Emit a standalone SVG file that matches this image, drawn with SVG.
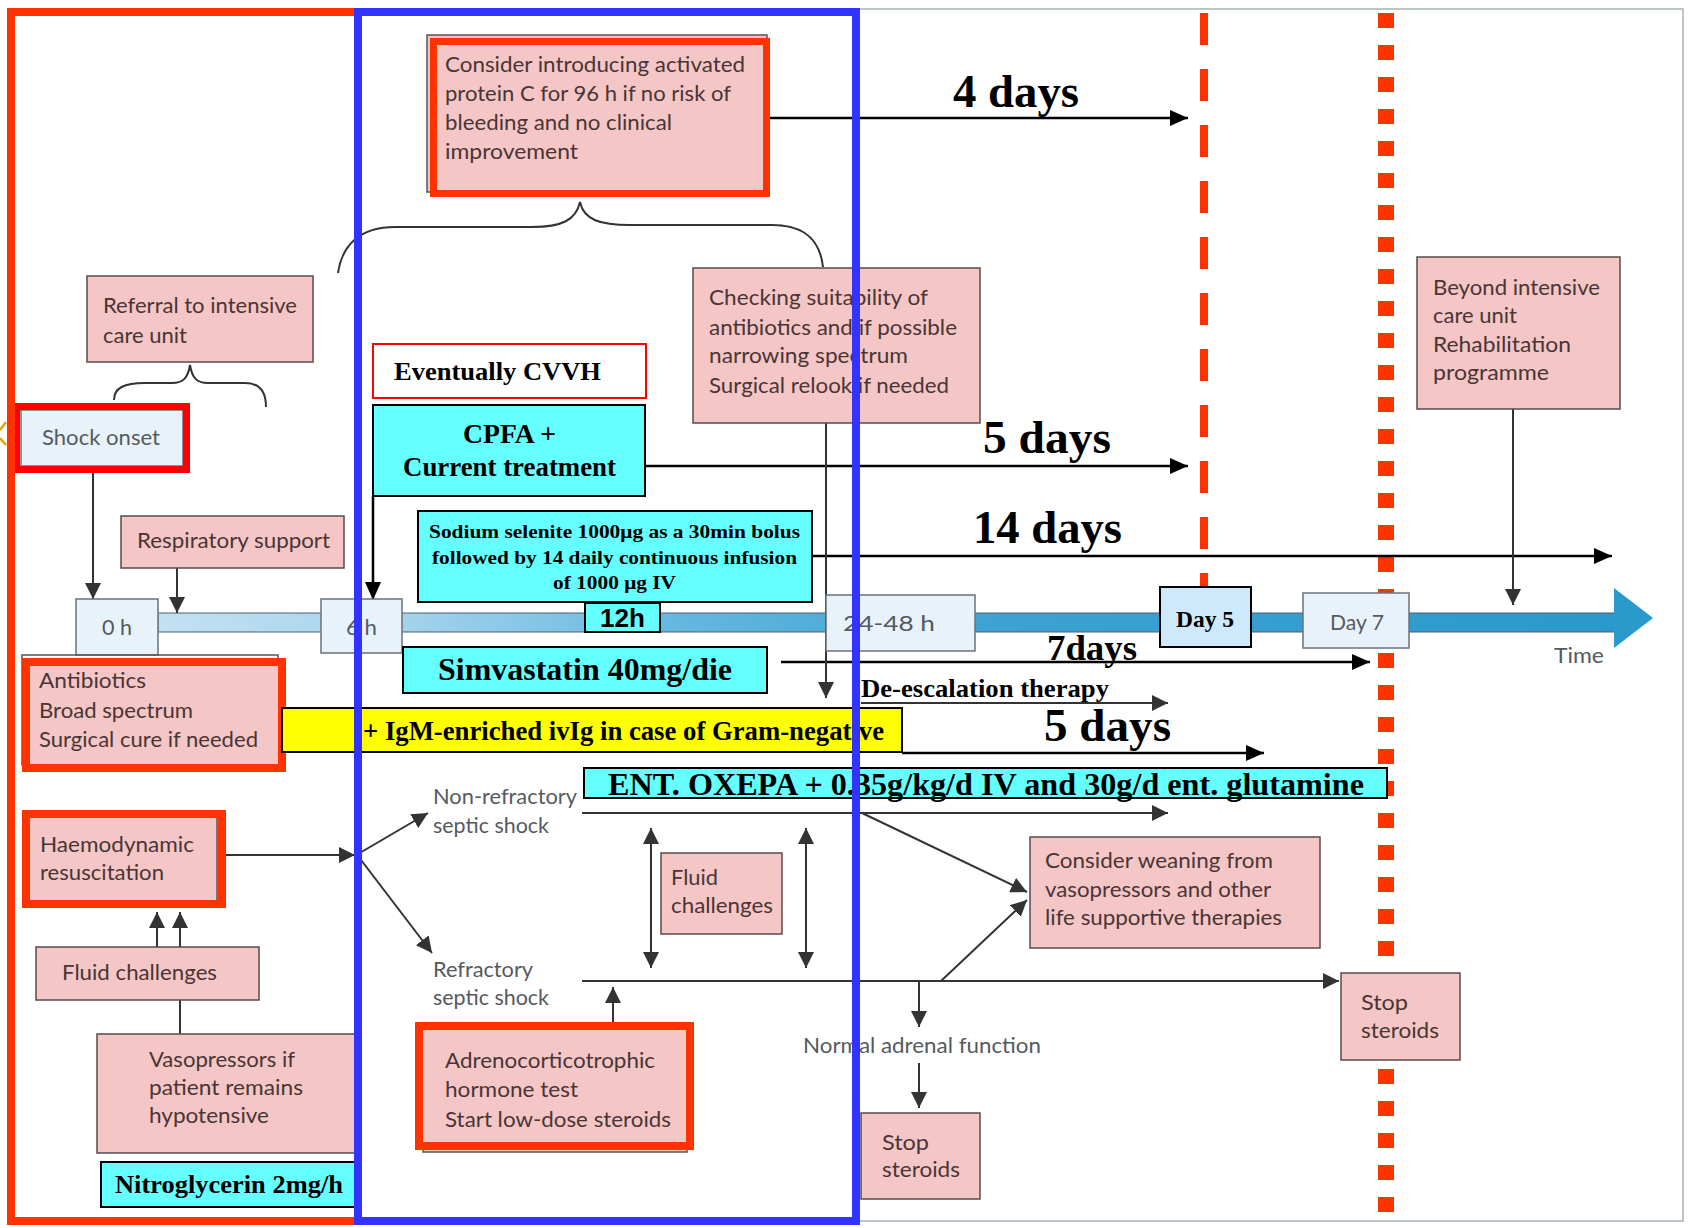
<svg xmlns="http://www.w3.org/2000/svg" width="1689" height="1228" viewBox="0 0 1689 1228">
  <defs>
    <style>
      .pink { fill: #f4c6c6; stroke: #5a4a4a; stroke-width: 1.5; }
      .lblue { fill: #e8f2fa; stroke: #6b7278; stroke-width: 1.5; }
      .cyan { fill: #66ffff; stroke: #000; stroke-width: 2; }
      .pinkframe { fill: #f4c6c6; stroke: #ff3300; stroke-width: 8; }
      .t { font-family: Lato, "Open Sans", sans-serif; font-size: 22px; fill: #4a3535; }
      .tg { font-family: Lato, "Open Sans", sans-serif; font-size: 22px; fill: #555a5e; }
      .b { font-family: "Liberation Serif", "Times New Roman", serif; font-weight: bold; fill: #000; }
      .conn { stroke: #333; stroke-width: 2; fill: none; }
      .connb { stroke: #000; stroke-width: 2.5; fill: none; }
    </style>
    <marker id="ah" viewBox="0 0 16 16" refX="16" refY="8" markerWidth="16" markerHeight="16" markerUnits="userSpaceOnUse" orient="auto-start-reverse">
      <path d="M0,0 L16,8 L0,16 Z" fill="#333"/>
    </marker>
    <marker id="ahb" viewBox="0 0 18 16" refX="18" refY="8" markerWidth="18" markerHeight="16" markerUnits="userSpaceOnUse" orient="auto">
      <path d="M0,0 L18,8 L0,16 Z" fill="#000"/>
    </marker>
    <linearGradient id="barGrad" x1="158" y1="0" x2="1653" y2="0" gradientUnits="userSpaceOnUse">
      <stop offset="0" stop-color="#c2e1f2"/>
      <stop offset="0.16" stop-color="#a6d3ec"/>
      <stop offset="0.34" stop-color="#66b8e0"/>
      <stop offset="0.55" stop-color="#3ea2d2"/>
      <stop offset="1" stop-color="#2a98cc"/>
    </linearGradient>
  </defs>

  <!-- page background and outer border -->
  <rect x="0" y="0" width="1689" height="1228" fill="#fff"/>
  <polyline points="858,9 1683,9 1683,1221 858,1221" fill="none" stroke="#bcc6bc" stroke-width="2"/>

  <!-- time axis -->
  <g id="timeline">
    <rect x="158" y="613" width="1460" height="19" fill="url(#barGrad)" stroke="#4a6070" stroke-width="1"/>
    <polygon points="1614,588 1653,618 1614,648" fill="#2a9acd"/>
  </g>

  <!-- day limits -->
  <g id="day-limits">
    <line x1="1204" y1="13" x2="1204" y2="587" stroke="#ff3300" stroke-width="8" stroke-dasharray="32 24"/>
    <line x1="1386" y1="13" x2="1386" y2="1220" stroke="#ff3300" stroke-width="16" stroke-dasharray="15 17"/>
  </g>

  <!-- connectors -->
  <g id="connectors">
    <path class="conn" d="M93,473 V599" marker-end="url(#ah)"/>
    <path class="conn" d="M177,568 V613" marker-end="url(#ah)"/>
    <path class="connb" d="M373,496 V600" marker-end="url(#ahb)"/>
    <path class="connb" d="M770,118 H1188" marker-end="url(#ahb)"/>
    <path class="connb" d="M645,466 H1188" marker-end="url(#ahb)"/>
    <path class="connb" d="M812,556 H1612" marker-end="url(#ahb)"/>
    <path class="connb" d="M781,662 H1370" marker-end="url(#ahb)"/>
    <path class="connb" d="M902,753 H1264" marker-end="url(#ahb)"/>
    <path class="conn" d="M826,423 V698" marker-end="url(#ah)"/>
    <path class="conn" d="M861,703 H1168" marker-end="url(#ah)"/>
    <path class="conn" d="M1513,409 V605" marker-end="url(#ah)"/>
    <path class="conn" d="M226,855 H355" marker-end="url(#ah)"/>
    <path class="conn" d="M358,854 L428,813" marker-end="url(#ah)"/>
    <path class="conn" d="M358,856 L432,953" marker-end="url(#ah)"/>
    <path class="conn" d="M157,947 V912" marker-end="url(#ah)"/>
    <path class="conn" d="M180,947 V912" marker-end="url(#ah)"/>
    <path class="conn" d="M180,1000 V1034"/>
    <path class="conn" d="M582,813 H1168" marker-end="url(#ah)"/>
    <path class="conn" d="M582,981 H1339" marker-end="url(#ah)"/>
    <path class="conn" d="M651,828 V968" marker-start="url(#ah)" marker-end="url(#ah)"/>
    <path class="conn" d="M806,828 V968" marker-start="url(#ah)" marker-end="url(#ah)"/>
    <path class="conn" d="M862,813 L1027,892" marker-end="url(#ah)"/>
    <path class="conn" d="M941,981 L1027,900" marker-end="url(#ah)"/>
    <path class="conn" d="M919,981 V1027" marker-end="url(#ah)"/>
    <path class="conn" d="M919,1063 V1108" marker-end="url(#ah)"/>
    <path class="conn" d="M613,1026 V987" marker-end="url(#ah)"/>
    <!-- braces -->
    <path class="conn" stroke-width="1.8" d="M114,400 C114,388 124,383 145,383 L172,383 C183,383 188,378 190,365 C192,378 197,383 208,383 L245,383 C260,383 266,392 266,407"/>
    <path class="conn" stroke-width="1.8" d="M338,273 C342,245 360,227 395,227 L532,227 C562,227 576,220 580,202 C584,220 600,225 630,225 L772,225 C805,225 820,240 823,267"/>
    <polyline points="6,422 0,430" fill="none" stroke="#e8a000" stroke-width="2.5"/>
    <polyline points="0,438 6,445" fill="none" stroke="#e8a000" stroke-width="2.5"/>
  </g>

  <!-- timeline boxes -->
  <g id="t0">
    <rect class="lblue" x="76" y="599" width="82" height="56"/>
    <text class="tg" x="102" y="635" textLength="30" lengthAdjust="spacingAndGlyphs">0 h</text>
  </g>
  <g id="t6">
    <rect class="lblue" x="321" y="599" width="81" height="54"/>
    <text class="tg" x="346" y="635" textLength="31" lengthAdjust="spacingAndGlyphs">6 h</text>
  </g>
  <g id="t12">
    <rect class="cyan" x="585" y="603" width="75" height="29"/>
    <text x="600" y="627" font-family="Liberation Sans, Arial, sans-serif" font-weight="bold" font-size="25" textLength="45" lengthAdjust="spacingAndGlyphs">12h</text>
  </g>
  <g id="t24">
    <rect class="lblue" x="826" y="595" width="149" height="56"/>
    <text class="tg" x="843" y="631" textLength="92" lengthAdjust="spacingAndGlyphs">24-48 h</text>
  </g>
  <g id="day5">
    <rect x="1160" y="587" width="91" height="60" fill="#cde9fb" stroke="#000" stroke-width="2"/>
    <text class="b" x="1176" y="627" font-size="24" textLength="58" lengthAdjust="spacingAndGlyphs">Day 5</text>
  </g>
  <g id="day7">
    <rect class="lblue" x="1303" y="593" width="106" height="55"/>
    <text class="tg" x="1330" y="630" textLength="54" lengthAdjust="spacingAndGlyphs">Day 7</text>
  </g>
  <g id="time-label">
    <text class="tg" x="1554" y="663" textLength="50" lengthAdjust="spacingAndGlyphs">Time</text>
  </g>

  <!-- left column -->
  <g id="referral">
    <rect class="pink" x="87" y="276" width="226" height="86"/>
    <text class="t" x="103" y="313" textLength="194" lengthAdjust="spacingAndGlyphs">Referral to intensive</text>
    <text class="t" x="103" y="343" textLength="84" lengthAdjust="spacingAndGlyphs">care unit</text>
  </g>
  <g id="shock-onset">
    <rect class="lblue" x="21" y="410" width="162" height="56"/>
    <rect x="16.5" y="406.5" width="170" height="63" fill="none" stroke="#ff0000" stroke-width="7"/>
    <text class="tg" x="42" y="445" textLength="118" lengthAdjust="spacingAndGlyphs">Shock onset</text>
  </g>
  <g id="respiratory">
    <rect class="pink" x="121" y="516" width="223" height="52"/>
    <text class="t" x="137" y="548" textLength="193" lengthAdjust="spacingAndGlyphs">Respiratory support</text>
  </g>
  <g id="antibiotics">
    <rect x="22" y="655" width="256" height="110" fill="none" stroke="#555" stroke-width="1.5"/>
    <rect class="pinkframe" x="26" y="662" width="256" height="106"/>
    <text class="t" x="39" y="688" textLength="107" lengthAdjust="spacingAndGlyphs">Antibiotics</text>
    <text class="t" x="39" y="718" textLength="154" lengthAdjust="spacingAndGlyphs">Broad spectrum</text>
    <text class="t" x="39" y="747" textLength="219" lengthAdjust="spacingAndGlyphs">Surgical cure if needed</text>
  </g>
  <g id="haemodynamic">
    <rect class="pinkframe" x="26" y="814" width="196" height="90"/>
    <line x1="217" y1="818" x2="217" y2="900" stroke="#555" stroke-width="1.5"/>
    <text class="t" x="40" y="852" textLength="154" lengthAdjust="spacingAndGlyphs">Haemodynamic</text>
    <text class="t" x="40" y="880" textLength="124" lengthAdjust="spacingAndGlyphs">resuscitation</text>
  </g>
  <g id="fluid-left">
    <rect class="pink" x="36" y="947" width="223" height="53"/>
    <text class="t" x="62" y="980" textLength="155" lengthAdjust="spacingAndGlyphs">Fluid challenges</text>
  </g>
  <g id="vasopressors">
    <rect class="pink" x="97" y="1034" width="260" height="119"/>
    <text class="t" x="149" y="1067" textLength="146" lengthAdjust="spacingAndGlyphs">Vasopressors if</text>
    <text class="t" x="149" y="1095" textLength="154" lengthAdjust="spacingAndGlyphs">patient remains</text>
    <text class="t" x="149" y="1123" textLength="120" lengthAdjust="spacingAndGlyphs">hypotensive</text>
  </g>
  <g id="nitroglycerin">
    <rect class="cyan" x="101" y="1162" width="256" height="45"/>
    <text class="b" x="115" y="1193" font-size="25" textLength="228" lengthAdjust="spacingAndGlyphs">Nitroglycerin 2mg/h</text>
  </g>

  <!-- middle column -->
  <g id="protein-c">
    <rect x="427" y="35" width="340" height="157" fill="#f4c6c6" stroke="#555" stroke-width="1.5"/>
    <rect x="433.5" y="41.5" width="333" height="152" fill="#f4c6c6" stroke="#ff3300" stroke-width="7"/>
    <text class="t" x="445" y="72" textLength="300" lengthAdjust="spacingAndGlyphs">Consider introducing activated</text>
    <text class="t" x="445" y="101" textLength="286" lengthAdjust="spacingAndGlyphs">protein C for 96 h if no risk of</text>
    <text class="t" x="445" y="130" textLength="227" lengthAdjust="spacingAndGlyphs">bleeding and no clinical</text>
    <text class="t" x="445" y="159" textLength="133" lengthAdjust="spacingAndGlyphs">improvement</text>
  </g>
  <g id="cvvh">
    <rect x="373" y="344" width="273" height="54" fill="#fff" stroke="#ff0000" stroke-width="2"/>
    <text class="b" x="394" y="380" font-size="26" textLength="207" lengthAdjust="spacingAndGlyphs">Eventually CVVH</text>
  </g>
  <g id="cpfa">
    <rect class="cyan" x="373" y="405" width="272" height="91"/>
    <text class="b" x="463" y="443" font-size="27" textLength="93" lengthAdjust="spacingAndGlyphs">CPFA +</text>
    <text class="b" x="403" y="476" font-size="27" textLength="213" lengthAdjust="spacingAndGlyphs">Current treatment</text>
  </g>
  <g id="selenite">
    <rect class="cyan" x="418" y="511" width="394" height="91"/>
    <text class="b" x="429" y="538" font-size="19" textLength="371" lengthAdjust="spacingAndGlyphs">Sodium selenite 1000μg as a 30min bolus</text>
    <text class="b" x="432" y="564" font-size="19" textLength="365" lengthAdjust="spacingAndGlyphs">followed by 14 daily continuous infusion</text>
    <text class="b" x="553" y="589" font-size="19" textLength="123" lengthAdjust="spacingAndGlyphs">of 1000 μg IV</text>
  </g>
  <g id="simvastatin">
    <rect class="cyan" x="403" y="647" width="364" height="46"/>
    <text class="b" x="438" y="680" font-size="32" textLength="294" lengthAdjust="spacingAndGlyphs">Simvastatin 40mg/die</text>
  </g>
  <g id="ivig">
    <rect x="282" y="708" width="620" height="44" fill="#ffff00" stroke="#000" stroke-width="2"/>
    <text class="b" x="363" y="740" font-size="27" textLength="521" lengthAdjust="spacingAndGlyphs">+ IgM-enriched ivIg in case of Gram-negative</text>
  </g>
  <g id="oxepa">
    <rect class="cyan" x="584" y="768" width="803" height="30"/>
    <text class="b" x="608" y="795" font-size="31" textLength="756" lengthAdjust="spacingAndGlyphs">ENT. OXEPA + 0.35g/kg/d IV and 30g/d ent. glutamine</text>
  </g>
  <g id="septic-labels">
    <text class="tg" x="433" y="804" textLength="144" lengthAdjust="spacingAndGlyphs">Non-refractory</text>
    <text class="tg" x="433" y="833" textLength="116" lengthAdjust="spacingAndGlyphs">septic shock</text>
    <text class="tg" x="433" y="977" textLength="100" lengthAdjust="spacingAndGlyphs">Refractory</text>
    <text class="tg" x="433" y="1005" textLength="116" lengthAdjust="spacingAndGlyphs">septic shock</text>
  </g>
  <g id="fluid-mid">
    <rect class="pink" x="661" y="853" width="121" height="81"/>
    <text class="t" x="671" y="885" textLength="47" lengthAdjust="spacingAndGlyphs">Fluid</text>
    <text class="t" x="671" y="913" textLength="102" lengthAdjust="spacingAndGlyphs">challenges</text>
  </g>
  <g id="acth">
    <rect x="423" y="1031" width="264" height="121" fill="#f4c6c6" stroke="#555" stroke-width="1.5"/>
    <rect class="pinkframe" x="419" y="1026" width="271" height="120"/>
    <text class="t" x="445" y="1068" textLength="210" lengthAdjust="spacingAndGlyphs">Adrenocorticotrophic</text>
    <text class="t" x="445" y="1097" textLength="133" lengthAdjust="spacingAndGlyphs">hormone test</text>
    <text class="t" x="445" y="1127" textLength="226" lengthAdjust="spacingAndGlyphs">Start low-dose steroids</text>
  </g>

  <!-- right part -->
  <g id="checking">
    <rect class="pink" x="693" y="268" width="287" height="155"/>
    <text class="t" x="709" y="305" textLength="219" lengthAdjust="spacingAndGlyphs">Checking suitability of</text>
    <text class="t" x="709" y="335" textLength="248" lengthAdjust="spacingAndGlyphs">antibiotics and if possible</text>
    <text class="t" x="709" y="363" textLength="199" lengthAdjust="spacingAndGlyphs">narrowing spectrum</text>
    <text class="t" x="709" y="393" textLength="240" lengthAdjust="spacingAndGlyphs">Surgical relook if needed</text>
  </g>
  <g id="beyond">
    <rect class="pink" x="1417" y="257" width="203" height="152"/>
    <text class="t" x="1433" y="295" textLength="167" lengthAdjust="spacingAndGlyphs">Beyond intensive</text>
    <text class="t" x="1433" y="323" textLength="84" lengthAdjust="spacingAndGlyphs">care unit</text>
    <text class="t" x="1433" y="352" textLength="138" lengthAdjust="spacingAndGlyphs">Rehabilitation</text>
    <text class="t" x="1433" y="380" textLength="116" lengthAdjust="spacingAndGlyphs">programme</text>
  </g>
  <g id="weaning">
    <rect class="pink" x="1030" y="837" width="290" height="111"/>
    <text class="t" x="1045" y="868" textLength="228" lengthAdjust="spacingAndGlyphs">Consider weaning from</text>
    <text class="t" x="1045" y="897" textLength="226" lengthAdjust="spacingAndGlyphs">vasopressors and other</text>
    <text class="t" x="1045" y="925" textLength="237" lengthAdjust="spacingAndGlyphs">life supportive therapies</text>
  </g>
  <g id="normal-adrenal">
    <text class="tg" x="803" y="1053" textLength="238" lengthAdjust="spacingAndGlyphs">Normal adrenal function</text>
  </g>
  <g id="stop-steroids-1">
    <rect class="pink" x="861" y="1113" width="119" height="86"/>
    <text class="t" x="882" y="1150" textLength="47" lengthAdjust="spacingAndGlyphs">Stop</text>
    <text class="t" x="882" y="1177" textLength="78" lengthAdjust="spacingAndGlyphs">steroids</text>
  </g>
  <g id="stop-steroids-2">
    <rect class="pink" x="1341" y="973" width="119" height="87"/>
    <text class="t" x="1361" y="1010" textLength="47" lengthAdjust="spacingAndGlyphs">Stop</text>
    <text class="t" x="1361" y="1038" textLength="78" lengthAdjust="spacingAndGlyphs">steroids</text>
  </g>

  <!-- duration labels -->
  <g id="durations">
    <text class="b" x="953" y="107" font-size="46" textLength="126" lengthAdjust="spacingAndGlyphs">4 days</text>
    <text class="b" x="983" y="453" font-size="46" textLength="128" lengthAdjust="spacingAndGlyphs">5 days</text>
    <text class="b" x="973" y="543" font-size="46" textLength="149" lengthAdjust="spacingAndGlyphs">14 days</text>
    <text class="b" x="1047" y="660" font-size="35" textLength="90" lengthAdjust="spacingAndGlyphs">7days</text>
    <text class="b" x="861" y="697" font-size="26" textLength="248" lengthAdjust="spacingAndGlyphs">De-escalation therapy</text>
    <text class="b" x="1044" y="741" font-size="46" textLength="127" lengthAdjust="spacingAndGlyphs">5 days</text>
  </g>

  <!-- phase frames -->
  <g id="phase-frames">
    <rect x="11" y="12" width="347" height="1209" fill="none" stroke="#ff3300" stroke-width="8"/>
    <rect x="358" y="12" width="498" height="1209" fill="none" stroke="#3333ff" stroke-width="8"/>
  </g>
</svg>
